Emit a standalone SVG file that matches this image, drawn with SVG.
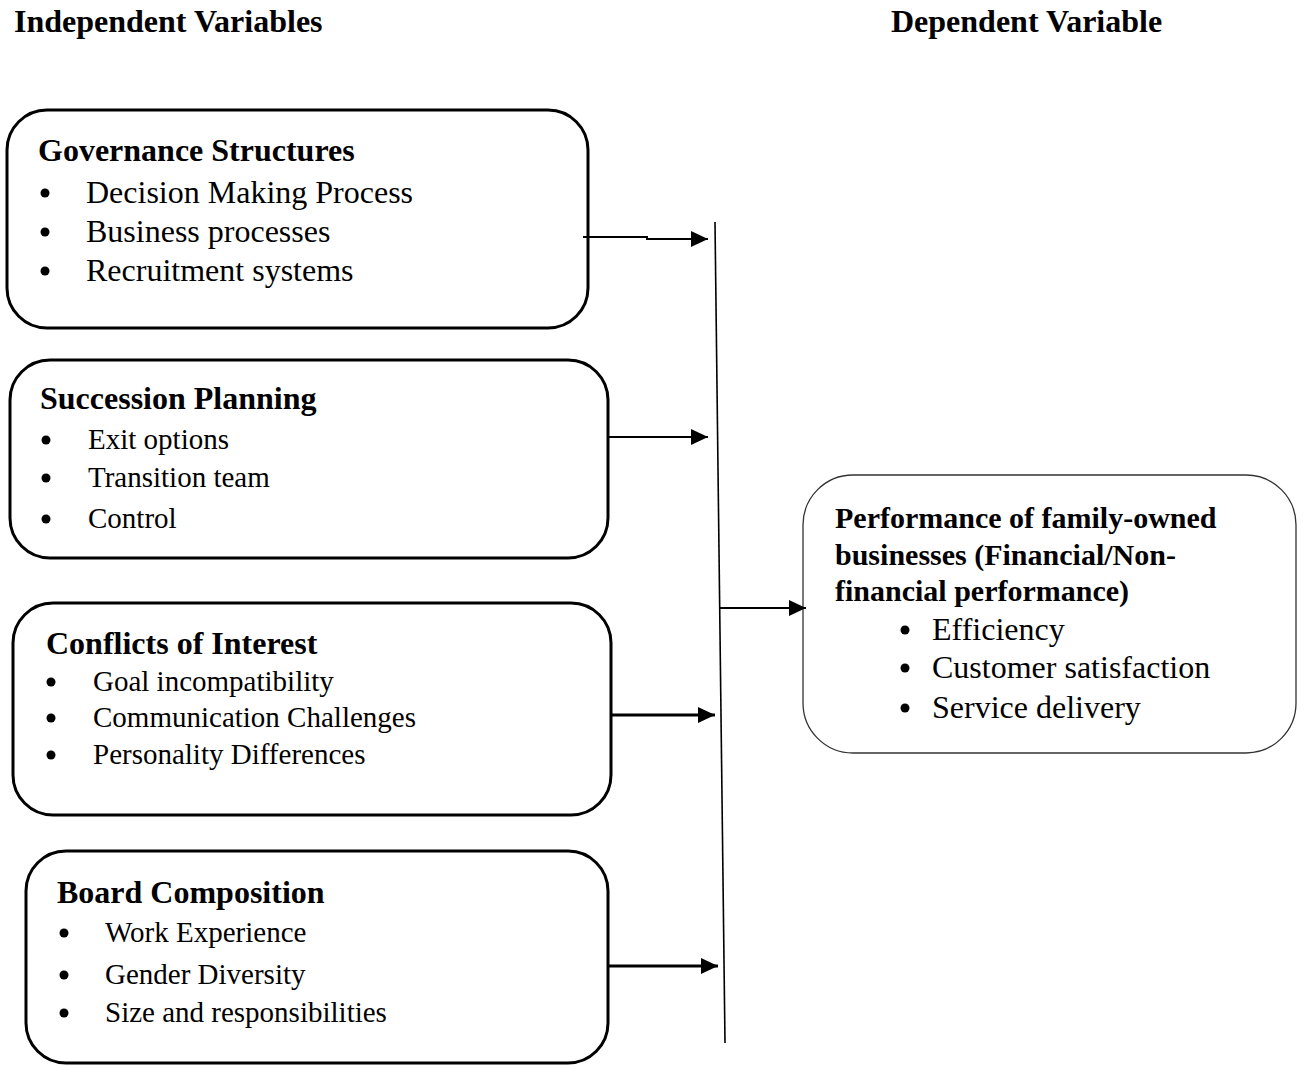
<svg xmlns="http://www.w3.org/2000/svg" width="1305" height="1066" viewBox="0 0 1305 1066">
<style>
text{font-family:"Liberation Serif","Times New Roman",serif;fill:#000}
.h{font-weight:bold;font-size:32px}
.h30{font-weight:bold;font-size:30px}
.t32{font-size:32px}
.t29{font-size:29px}
.box{fill:#fff;stroke:#000;stroke-width:3}
.rbox{fill:#fff;stroke:#333;stroke-width:1.3}
.c{fill:none;stroke:#000;stroke-width:2}
.c3{fill:none;stroke:#000;stroke-width:3}
.b{fill:#000}
</style>
<defs>
<marker id="ah" markerUnits="userSpaceOnUse" markerWidth="18" markerHeight="18" refX="17" refY="8" orient="auto">
<path d="M0,0 L17,8 L0,16 Z" fill="#000"/>
</marker>
</defs>
<rect width="1305" height="1066" fill="#fff"/>
<g id="headers">
<text class="h" x="14" y="32">Independent Variables</text>
<text class="h" x="891" y="32">Dependent Variable</text>
</g>
<g id="governance">
<rect class="box" x="7" y="110" width="581" height="218" rx="40"/>
<text class="h" x="38" y="161">Governance Structures</text>
<circle class="b" cx="45" cy="193" r="4.5"/><text class="t32" x="86" y="203">Decision Making Process</text>
<circle class="b" cx="45" cy="232" r="4.5"/><text class="t32" x="86" y="242">Business processes</text>
<circle class="b" cx="45" cy="271" r="4.5"/><text class="t32" x="86" y="281">Recruitment systems</text>
</g>
<g id="succession">
<rect class="box" x="10" y="360" width="598" height="198" rx="40"/>
<text class="h" x="40" y="409">Succession Planning</text>
<circle class="b" cx="46" cy="440" r="4.5"/><text class="t29" x="88" y="449">Exit options</text>
<circle class="b" cx="46" cy="478" r="4.5"/><text class="t29" x="88" y="487">Transition team</text>
<circle class="b" cx="46" cy="519" r="4.5"/><text class="t29" x="88" y="528">Control</text>
</g>
<g id="conflicts">
<rect class="box" x="13" y="603" width="598" height="212" rx="40"/>
<text class="h" x="46" y="654">Conflicts of Interest</text>
<circle class="b" cx="51" cy="682" r="4.5"/><text class="t29" x="93" y="691">Goal incompatibility</text>
<circle class="b" cx="51" cy="718" r="4.5"/><text class="t29" x="93" y="727">Communication Challenges</text>
<circle class="b" cx="51" cy="755" r="4.5"/><text class="t29" x="93" y="764">Personality Differences</text>
</g>
<g id="board">
<rect class="box" x="26" y="851" width="582" height="212" rx="40"/>
<text class="h" x="57" y="903">Board Composition</text>
<circle class="b" cx="64" cy="933" r="4.5"/><text class="t29" x="105" y="942">Work Experience</text>
<circle class="b" cx="64" cy="975" r="4.5"/><text class="t29" x="105" y="984">Gender Diversity</text>
<circle class="b" cx="64" cy="1013" r="4.5"/><text class="t29" x="105" y="1022">Size and responsibilities</text>
</g>
<g id="performance">
<rect class="rbox" x="803" y="475" width="493" height="278" rx="50"/>
<text class="h30" x="835" y="528">Performance of family-owned</text>
<text class="h30" x="835" y="565">businesses (Financial/Non-</text>
<text class="h30" x="835" y="601">financial performance)</text>
<circle class="b" cx="905" cy="630" r="4.5"/><text class="t32" x="932" y="640">Efficiency</text>
<circle class="b" cx="905" cy="668" r="4.5"/><text class="t32" x="932" y="678">Customer satisfaction</text>
<circle class="b" cx="905" cy="708" r="4.5"/><text class="t32" x="932" y="718">Service delivery</text>
</g>
<g id="connectors">
<line x1="715" y1="222" x2="725" y2="1043" stroke="#000" stroke-width="1.6"/>
<path class="c" d="M583,237 H647 V239 H708" marker-end="url(#ah)"/>
<path class="c" d="M608,437 H708" marker-end="url(#ah)"/>
<path class="c3" d="M611,715 H715" marker-end="url(#ah)"/>
<path class="c3" d="M608,966 H718" marker-end="url(#ah)"/>
<path class="c" d="M720,608 H806" marker-end="url(#ah)"/>
</g>
</svg>
